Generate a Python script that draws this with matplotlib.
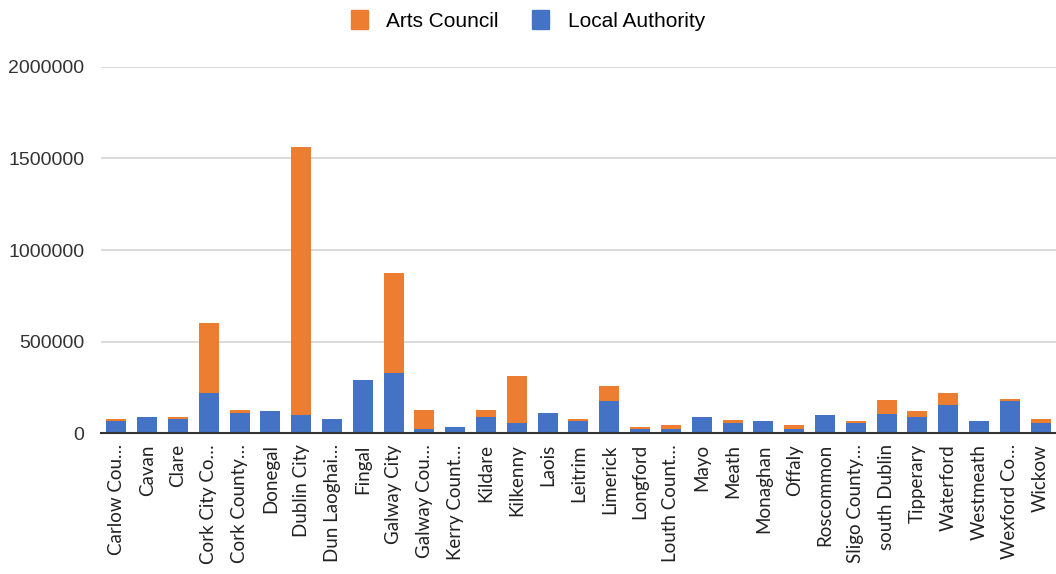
import matplotlib.pyplot as plt
from matplotlib.patches import Patch
import numpy as np

councils = [
    "Carlow Cou…", "Cavan", "Clare", "Cork City Co…", "Cork County…",
    "Donegal", "Dublin City", "Dun Laoghai…", "Fingal", "Galway City",
    "Galway Cou…", "Kerry Count…", "Kildare", "Kilkenny", "Laois",
    "Leitrim", "Limerick", "Longford", "Louth Count…", "Mayo",
    "Meath", "Monaghan", "Offaly", "Roscommon", "Sligo County…",
    "south Dublin", "Tipperary", "Waterford", "Westmeath", "Wexford Co…",
    "Wickow",
]

local_authority = [
    67000, 85000, 76000, 216000, 109000,
    120000, 96000, 76000, 288000, 328000,
    23000, 34000, 85000, 53000, 107000,
    67000, 174000, 23000, 23000, 85000,
    54000, 67000, 23000, 96000, 54000,
    105000, 85000, 152000, 67000, 174000,
    54000,
]
arts_council = [
    9000, 0, 11000, 384000, 18000,
    0, 1469000, 0, 0, 549000,
    102000, 0, 40000, 257000, 0,
    11000, 81000, 11000, 22000, 0,
    15000, 0, 22000, 0, 13000,
    78000, 35000, 65000, 0, 11000,
    24000,
]

orange = "#ED7D31"
blue = "#4472C4"

fig = plt.figure(figsize=(10.56, 5.74), dpi=100)
ax = fig.add_axes([0.0956, 0.2456, 0.9044, 0.6377])

x = np.arange(len(councils))
ax.bar(x, local_authority, width=0.65, color=blue, zorder=3)
ax.bar(x, arts_council, width=0.65, bottom=local_authority, color=orange, zorder=3)

ax.set_xlim(-0.5, len(councils) - 0.5)
ax.set_ylim(0, 2000000)
ax.set_yticks([0, 500000, 1000000, 1500000, 2000000])
ax.set_yticklabels(["0", "500000", "1000000", "1500000", "2000000"],
                   family="Liberation Sans", fontsize=14, color="#333333")
ax.grid(axis="y", color="#d4d4d4", linewidth=1.2, zorder=0)
ax.tick_params(axis="y", length=0, pad=12)
ax.tick_params(axis="x", length=0, pad=8)
ax.set_xticks(x)
ax.set_xticklabels(councils, rotation=90, family="Lato", fontsize=13.5, color="#222222")

for side in ["top", "right", "left"]:
    ax.spines[side].set_visible(False)
ax.spines["bottom"].set_color("#333333")
ax.spines["bottom"].set_linewidth(1.5)
ax.spines["bottom"].set_zorder(4)

handles = [Patch(color=orange, label="Arts Council"),
           Patch(color=blue, label="Local Authority")]
fig.legend(handles=handles, loc="upper center", bbox_to_anchor=(0.5, 1.015),
           ncol=2, frameon=False, handlelength=0.8, handleheight=1.0,
           handletextpad=0.9, columnspacing=1.6,
           prop={"family": "Liberation Sans", "size": 15})

fig.savefig("out.png", dpi=100)
